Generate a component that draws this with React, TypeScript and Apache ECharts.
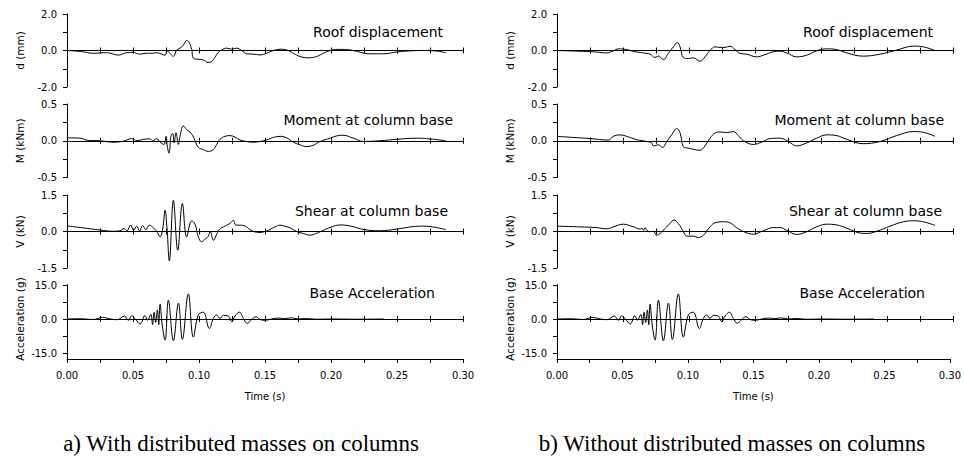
import React, { useEffect, useRef } from 'react';
import * as echarts from 'echarts';

// ---------- data (time in s, value) ----------
const roofDispA: [number, number][] = [
  [0, 0], [0.01, -0.05], [0.02, -0.15], [0.03, -0.12], [0.039, -0.25], [0.045, -0.12], [0.05, -0.1], [0.055, -0.2],
  [0.06, -0.15], [0.065, -0.15], [0.068, -0.12], [0.0717, -0.2], [0.0743, -0.26], [0.076, -0.02], [0.078, -0.15],
  [0.0806, -0.32], [0.0831, 0.02], [0.0856, 0.13], [0.0882, 0.3], [0.0907, 0.55], [0.0927, 0.42], [0.0945, 0.05],
  [0.0957, -0.42], [0.0995, -0.48], [0.1033, -0.52], [0.107, -0.66], [0.1096, -0.6], [0.1121, -0.37], [0.1147, -0.1],
  [0.1172, 0.03], [0.121, 0.13], [0.1248, 0.07], [0.1286, 0.13], [0.1323, 0.0], [0.1361, -0.18], [0.1412, -0.2],
  [0.1462, -0.24], [0.1513, -0.15], [0.1563, 0.0], [0.1614, 0.07], [0.1664, 0.03], [0.1715, -0.15], [0.1765, -0.33],
  [0.1828, -0.4], [0.1892, -0.33], [0.1942, -0.15], [0.1993, 0.0], [0.205, 0.06], [0.212, 0.05], [0.22, -0.05],
  [0.228, -0.18], [0.24, -0.18], [0.25, -0.08], [0.26, -0.02], [0.27, 0.0], [0.28, -0.03], [0.287, -0.12],
];

const momentA: [number, number][] = [
  [0, 0.04], [0.01, 0.035], [0.016, 0.005], [0.025, 0.0], [0.035, -0.02], [0.043, -0.005], [0.049, 0.03], [0.053, 0.0],
  [0.058, 0.02], [0.063, 0.025], [0.065, 0.0], [0.068, 0.03], [0.0705, -0.02], [0.0735, -0.05], [0.075, 0.06],
  [0.076, -0.08], [0.0773, -0.17], [0.0788, 0.07], [0.0801, 0.1], [0.0811, -0.03], [0.0826, 0.11], [0.0844, -0.05],
  [0.0856, 0.06], [0.0882, 0.2], [0.0907, 0.15], [0.093, 0.12], [0.0952, 0.07], [0.097, 0.0], [0.0995, -0.09],
  [0.1033, -0.12], [0.107, -0.145], [0.1109, -0.12], [0.1134, -0.05], [0.1159, 0.02], [0.1197, 0.06], [0.1235, 0.07],
  [0.1273, 0.05], [0.1311, 0.01], [0.1361, -0.01], [0.141, -0.02], [0.1462, -0.01], [0.151, 0.01], [0.1563, 0.045],
  [0.1614, 0.06], [0.1664, 0.04], [0.1715, -0.02], [0.1765, -0.055], [0.1816, -0.08], [0.1867, -0.06], [0.1917, -0.01],
  [0.1993, 0.035], [0.204, 0.065], [0.209, 0.075], [0.217, 0.035], [0.2245, -0.01], [0.237, 0.0], [0.25, 0.02],
  [0.265, 0.035], [0.275, 0.025], [0.287, 0.0],
];

const shearA: [number, number][] = [
  [0, 0.23], [0.012, 0.15], [0.025, 0.06], [0.035, 0.01], [0.04, 0.03], [0.0432, 0.12], [0.0455, 0.03], [0.0482, 0.27],
  [0.0505, 0.05], [0.0528, 0.22], [0.055, 0.02], [0.0573, 0.25], [0.0597, 0.08], [0.0624, 0.26], [0.0655, 0.15],
  [0.068, 0.0], [0.0705, -0.22], [0.0725, 0.1], [0.0743, 0.87], [0.0758, 0.1], [0.0775, -1.2], [0.0806, 1.28],
  [0.0839, -0.77], [0.0874, 1.15], [0.0907, -0.22], [0.0945, 0.44], [0.097, 0.3], [0.0995, -0.22], [0.102, -0.42],
  [0.1045, -0.32], [0.107, -0.2], [0.1085, 0.0], [0.111, -0.36], [0.1135, -0.1], [0.116, 0.12], [0.1185, 0.19],
  [0.121, 0.26], [0.1235, 0.33], [0.126, 0.46], [0.128, 0.26], [0.131, 0.26], [0.135, 0.22], [0.1387, 0.08],
  [0.1412, 0.0], [0.1462, -0.04], [0.15, 0.0], [0.1538, 0.08], [0.1576, 0.19], [0.1614, 0.26], [0.165, 0.22],
  [0.169, 0.15], [0.174, 0.0], [0.179, -0.08], [0.184, -0.15], [0.189, -0.08], [0.1942, 0.05], [0.2, 0.18],
  [0.207, 0.27], [0.215, 0.22], [0.225, 0.08], [0.237, 0.03], [0.25, 0.1], [0.262, 0.2], [0.27, 0.22], [0.28, 0.16],
  [0.287, 0.08],
];

const baseAccel: [number, number][] = [
  [0, 0], [0.01, 0.1], [0.02, -0.2], [0.027, 0.7], [0.033, 0], [0.038, -0.3], [0.0435, 1.3], [0.0465, -0.6],
  [0.049, 1.4], [0.052, -0.2], [0.0555, -2.2], [0.059, 1.5], [0.061, -0.5], [0.0635, 2.0], [0.0648, -2.5],
  [0.066, 3.0], [0.0672, -1.5], [0.0685, 4.0], [0.0695, -2.5], [0.0705, 6.5], [0.0722, -3], [0.0743, -9.3],
  [0.0768, 8.3], [0.0806, -9.6], [0.0844, 7], [0.0874, -9], [0.0919, 11.1], [0.0957, -8], [0.0995, 1.8],
  [0.1033, 3], [0.1078, -4.2], [0.1109, 0.3], [0.1134, 1.8], [0.1159, 0.3], [0.1185, 1.6], [0.1222, 1.3],
  [0.1248, -1.2], [0.1273, 1.3], [0.1306, 3], [0.1336, 0.3], [0.1366, -1.9], [0.1399, -0.2], [0.1432, 1],
  [0.1462, -0.2], [0.15, -0.6], [0.155, 0], [0.16, 0.4], [0.165, 0.2], [0.17, 0.5], [0.175, 0], [0.18, 0.2],
  [0.19, -0.1], [0.2, 0], [0.22, -0.1], [0.24, 0],
];

const roofDispB: [number, number][] = [
  [0, 0], [0.0174, -0.04], [0.0275, -0.07], [0.0376, -0.13], [0.0427, -0.02], [0.0465, 0.09], [0.0528, 0.05],
  [0.058, -0.05], [0.065, -0.13], [0.0705, -0.2], [0.0742, -0.38], [0.0768, -0.3], [0.0806, -0.5], [0.0843, -0.16],
  [0.0881, 0.2], [0.0912, 0.44], [0.0932, 0.2], [0.0957, -0.38], [0.0995, -0.44], [0.1033, -0.4], [0.1083, -0.59],
  [0.1121, -0.35], [0.1159, 0.0], [0.1197, 0.2], [0.1235, 0.17], [0.1273, 0.17], [0.131, 0.24], [0.1349, 0.05],
  [0.1386, -0.16], [0.1437, -0.2], [0.1513, -0.35], [0.1563, -0.26], [0.1639, -0.07], [0.169, -0.04], [0.174, -0.13],
  [0.1816, -0.35], [0.1891, -0.26], [0.1967, -0.02], [0.2043, 0.09], [0.2119, 0.05], [0.2194, -0.13], [0.232, -0.31],
  [0.2447, -0.2], [0.2573, 0.02], [0.27, 0.24], [0.2775, 0.2], [0.2864, 0.0],
];

const momentB: [number, number][] = [
  [0, 0.06], [0.0124, 0.045], [0.025, 0.03], [0.0389, 0.01], [0.0427, 0.06], [0.0477, 0.08], [0.0528, 0.06],
  [0.0604, 0.015], [0.0679, -0.01], [0.0717, -0.03], [0.073, -0.07], [0.0768, -0.055], [0.08, -0.09], [0.0831, -0.01],
  [0.0869, 0.08], [0.0907, 0.165], [0.0932, 0.11], [0.0957, -0.08], [0.0995, -0.1], [0.1045, -0.12], [0.1083, -0.13],
  [0.1121, -0.07], [0.1159, 0.035], [0.1197, 0.105], [0.1235, 0.12], [0.1285, 0.11], [0.1336, 0.125], [0.1374, 0.07],
  [0.1412, 0.0], [0.1487, -0.05], [0.155, -0.02], [0.1614, 0.03], [0.169, 0.035], [0.1753, -0.01], [0.1816, -0.07],
  [0.1891, -0.03], [0.1967, 0.035], [0.2043, 0.08], [0.2119, 0.07], [0.2194, 0.02], [0.232, -0.04], [0.2447, -0.01],
  [0.2573, 0.07], [0.27, 0.125], [0.2775, 0.115], [0.2864, 0.06],
];

const shearB: [number, number][] = [
  [0, 0.22], [0.0174, 0.19], [0.03, 0.16], [0.0376, 0.11], [0.0427, 0.19], [0.0503, 0.3], [0.058, 0.19], [0.063, 0.1],
  [0.0645, 0.14], [0.0655, 0.05], [0.0668, 0.16], [0.068, 0.05], [0.0705, -0.01], [0.073, 0.01], [0.0755, -0.15],
  [0.078, -0.08], [0.0818, 0.12], [0.0856, 0.33], [0.0886, 0.47], [0.0919, 0.33], [0.0957, 0.0], [0.0982, -0.19],
  [0.1033, -0.19], [0.107, -0.25], [0.1109, -0.15], [0.1159, 0.19], [0.1197, 0.36], [0.126, 0.4], [0.131, 0.36],
  [0.136, 0.16], [0.1412, 0.0], [0.1487, -0.11], [0.1563, 0.03], [0.1639, 0.16], [0.169, 0.16], [0.174, 0.05],
  [0.1816, -0.12], [0.1891, -0.01], [0.1967, 0.19], [0.2043, 0.3], [0.2119, 0.27], [0.2194, 0.14], [0.227, -0.03],
  [0.2346, -0.08], [0.2422, 0.01], [0.2523, 0.22], [0.2624, 0.4], [0.27, 0.44], [0.2775, 0.4], [0.2864, 0.25],
];

const rowMax = [2, 0.5, 1.5, 15];
const rowNames = ['d (mm)', 'M (kNm)', 'V (kN)', 'Acceleration (g)'];
const rowTitles = ['Roof displacement', 'Moment at column base', 'Shear at column base', 'Base Acceleration'];
const captions = ['a) With distributed masses on columns', 'b) Without distributed masses on columns'];
const timeAxisName = 'Time (s)';

// ---------- layout ----------
const COL_LEFT = [67, 557];
const PLOT_W = 396;
const ROW_TOP = [14, 104, 195, 285];
const ROW_H = [73, 73.5, 73, 68];
const TIME_TOP = 285;
const TIME_H = 74;
const TITLE_RIGHT = [[443, 453, 448, 435], [933, 944, 942, 925]];
const TITLE_Y = [32, 120, 211, 293];
const CAPTION_X = [241, 732];
const CAPTION_Y = 443;

const FONT = '"DejaVu Sans", sans-serif';
const black = '#000';

export default function App() {
  const ref = useRef<HTMLDivElement>(null);
  useEffect(() => {
    if (!ref.current) return;
    const chart = echarts.init(ref.current, undefined, { renderer: 'svg' });
    const seriesData = [
      [roofDispA, momentA, shearA, baseAccel],
      [roofDispB, momentB, shearB, baseAccel],
    ];
    const grid: any[] = [];
    const xAxis: any[] = [];
    const yAxis: any[] = [];
    const series: any[] = [];
    const graphic: any[] = [];
    const lineStyle = { color: black, width: 1 };

    for (let c = 0; c < 2; c++) {
      for (let r = 0; r < 4; r++) {
        const gi = grid.length;
        grid.push({ left: COL_LEFT[c], top: ROW_TOP[r], width: PLOT_W, height: ROW_H[r] });
        const max = rowMax[r];
        yAxis.push({
          gridIndex: gi, type: 'value', min: -max, max, interval: max / 2,
          axisLine: { show: true, onZero: false, lineStyle },
          axisTick: { show: true, length: 4, lineStyle },
          splitLine: { show: false },
          axisLabel: {
            margin: 10, fontSize: 10, fontFamily: FONT, color: black,
            formatter: (v: number) => (Math.abs(v) < 1e-9 || Math.abs(Math.abs(v) - max) < 1e-9 ? v.toFixed(1) : ''),
          },
          name: rowNames[r], nameLocation: 'middle', nameGap: 42, nameRotate: 90,
          nameTextStyle: { fontSize: 10.5, fontFamily: FONT, color: black },
        });
        const yIdx = yAxis.length - 1;
        const xBase = {
          gridIndex: gi, type: 'value', min: 0, max: 0.3, interval: 0.025,
          axisLabel: { show: false }, splitLine: { show: false },
          axisTick: { show: true, length: 3, lineStyle },
        };
        xAxis.push({ ...xBase, position: 'bottom', axisLine: { show: true, onZero: true, lineStyle } });
        const xIdx = xAxis.length - 1;
        xAxis.push({ ...xBase, position: 'top', axisLine: { show: true, onZero: true, onZeroAxisIndex: yIdx, lineStyle } });
        series.push({
          type: 'line', xAxisIndex: xIdx, yAxisIndex: yIdx, data: seriesData[c][r],
          showSymbol: false, symbol: 'none', smooth: 0.4, silent: true,
          lineStyle: { color: black, width: 1 },
        });
        graphic.push({
          type: 'text', x: TITLE_RIGHT[c][r], y: TITLE_Y[r], silent: true,
          style: { text: rowTitles[r], align: 'right', verticalAlign: 'middle', fontSize: 14, fontFamily: FONT, fill: black },
        });
      }
      // time axis grid
      const gi = grid.length;
      grid.push({ left: COL_LEFT[c], top: TIME_TOP, width: PLOT_W, height: TIME_H });
      yAxis.push({
        gridIndex: gi, type: 'value', min: 0, max: 1,
        axisLine: { show: true, onZero: false, lineStyle },
        axisTick: { show: false }, axisLabel: { show: false }, splitLine: { show: false },
      });
      xAxis.push({
        gridIndex: gi, type: 'value', min: 0, max: 0.3, interval: 0.025, position: 'bottom',
        axisLine: { show: true, onZero: false, lineStyle },
        axisTick: { show: true, length: 4, lineStyle },
        splitLine: { show: false },
        axisLabel: {
          margin: 11, fontSize: 10, fontFamily: FONT, color: black,
          formatter: (v: number) => {
            const k = Math.round(v * 1000);
            return k % 50 === 0 ? (k / 1000).toFixed(2) : '';
          },
        },
        name: timeAxisName, nameLocation: 'middle', nameGap: 32,
        nameTextStyle: { fontSize: 10, fontFamily: FONT, color: black },
      });
      graphic.push({
        type: 'text', x: CAPTION_X[c], y: CAPTION_Y, silent: true,
        style: { text: captions[c], align: 'center', verticalAlign: 'middle', fontSize: 23, fontFamily: '"Liberation Serif", "Times New Roman", serif', fill: black },
      });
    }

    chart.setOption({ animation: false, backgroundColor: '#fff', grid, xAxis, yAxis, series, graphic });
    return () => chart.dispose();
  }, []);
  return <div ref={ref} style={{ position: 'fixed', left: 0, top: 0, width: 964, height: 457, background: '#fff' }} />;
}
